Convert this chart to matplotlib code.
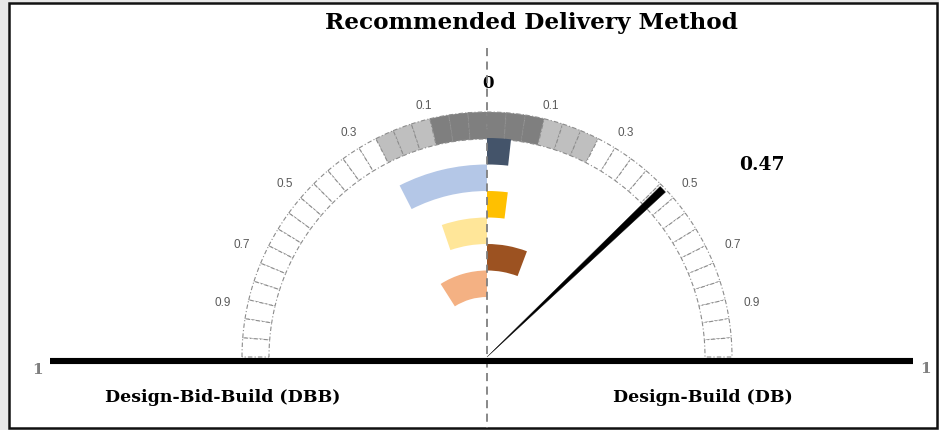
import numpy as np
import matplotlib
matplotlib.use("Agg")
import matplotlib.pyplot as plt
from matplotlib.patches import Wedge, Rectangle

# gauge data
result = 0.47
scale_ticks = [0.1, 0.3, 0.5, 0.7, 0.9]
band_limits = [0.15, 0.30, 1.00]
band_colors = ['#7F7F7F', '#BFBFBF', 'white']

# scores per ring (outer ring first); DB on the right, DBB on the left
db_scores = [0.07, 0.08, 0.23]
db_colors = ['#44546A', '#FFC000', '#9C5221']
dbb_scores = [0.30, 0.21, 0.36]
dbb_colors = ['#B4C7E7', '#FFE699', '#F4B183']

title = "Recommended Delivery Method"
left_name = "Design-Bid-Build (DBB)"
right_name = "Design-Build (DB)"

# layout (pixels)
W, H = 939, 430
cx, cy = 487, 357
R_out, R_in = 245, 218
ring_outer, ring_w = 219, 26.5
n_seg = 20
label_ang = [14.2, 31.7, 49.5, 65.5, 78.5]
label_rad = [259, 263, 266, 270, 270]


def theta(a, side):
    # a: degrees from vertical; side +1 right, -1 left (y axis inverted)
    return a - 90 if side > 0 else -90 - a


def wedge(r, a1, a2, side, width, **kw):
    t1, t2 = sorted([theta(a1, side), theta(a2, side)])
    return Wedge((cx, cy), r, t1, t2, width=width, **kw)


fig = plt.figure(figsize=(W / 100, H / 100), dpi=100)
fig.patch.set_facecolor('#E7E7E7')
ax = fig.add_axes([0, 0, 1, 1])
ax.set_xlim(0, W)
ax.set_ylim(H, 0)
ax.set_aspect('equal')
ax.axis('off')

ax.add_patch(Rectangle((9, 3), 928, 425, facecolor='white',
                       edgecolor='#111111', lw=1.8, zorder=0))

# gauge segments
step = 90 / n_seg
for side in (-1, 1):
    for k in range(n_seg):
        v = (k + 0.5) / n_seg
        col = band_colors[np.searchsorted(band_limits, v)]
        ax.add_patch(wedge(R_out, k * step, (k + 1) * step, side, R_out - R_in,
                           facecolor=col, edgecolor='#8C8C8C', lw=0.8,
                           linestyle=(0, (4, 2, 1, 2)), zorder=2))

# score bars
for i in range(3):
    r_db = ring_outer - (2 * i) * ring_w
    r_dbb = ring_outer - (2 * i + 1) * ring_w
    ax.add_patch(wedge(r_db, 0, db_scores[i] * 90, 1, ring_w,
                       facecolor=db_colors[i], lw=0, zorder=3))
    ax.add_patch(wedge(r_dbb, 0, dbb_scores[i] * 90, -1, ring_w,
                       facecolor=dbb_colors[i], lw=0, zorder=3))

# scale labels
for t, a, r in zip(scale_ticks, label_ang, label_rad):
    for side in (-1, 1):
        x = cx + side * r * np.sin(np.radians(a))
        y = cy - r * np.cos(np.radians(a))
        ax.text(x, y, f"{t:.1f}", ha='center', va='center', fontsize=8.5,
                color='#595959', family='Liberation Sans')

# axis lines
ax.plot([cx, cx], [48, 428], color='#7F7F7F', lw=1.3,
        linestyle=(0, (4.5, 3)), zorder=4)
ax.plot([50, 913], [360.5, 360.5], color='black', lw=4.4,
        solid_capstyle='butt', zorder=5)

# needle
a_n = (result + 0.045) * 90
ax.add_patch(Wedge((cx, cy), 243, theta(a_n, 1) - 0.9, theta(a_n, 1) + 0.9,
                   facecolor='black', edgecolor='black', lw=0.3, zorder=6))

serif = 'DejaVu Serif'
ax.text(531, 23, title, ha='center', va='center', fontsize=16.7,
        fontweight='bold', family=serif)
ax.text(cx + 1, 84, "0", ha='center', va='center', fontsize=12,
        fontweight='bold', family=serif)
ax.text(762, 165, f"{result:.2f}", ha='center', va='center', fontsize=13.5,
        fontweight='bold', family=serif)
ax.text(37, 370, "1", ha='center', va='center', fontsize=11,
        fontweight='bold', family=serif, color='#7F7F7F')
ax.text(925, 369, "1", ha='center', va='center', fontsize=11,
        fontweight='bold', family=serif, color='#7F7F7F')
ax.text(223, 398, left_name, ha='center', va='center', fontsize=12.5,
        fontweight='bold', family=serif)
ax.text(703, 398, right_name, ha='center', va='center', fontsize=12.5,
        fontweight='bold', family=serif)

fig.savefig('out.png', dpi=100, facecolor=fig.get_facecolor())
